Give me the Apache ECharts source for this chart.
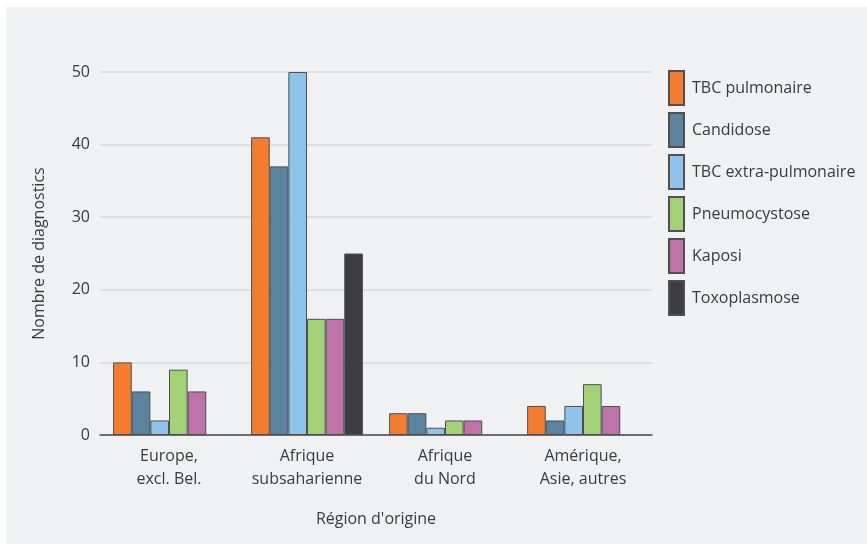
<!DOCTYPE html>
<html><head><meta charset="utf-8">
<script src="https://cdn.jsdelivr.net/npm/echarts@6/dist/echarts.min.js"></script>
<style>html,body{margin:0;padding:0;background:#fff}#c{width:867px;height:545px}</style>
</head><body><div id="c"></div>
<script>
const categories = ['Europe,\nexcl. Bel.', 'Afrique\nsubsaharienne', 'Afrique\ndu Nord', 'Amérique,\nAsie, autres'];
const seriesNames = ['TBC pulmonaire', 'Candidose', 'TBC extra-pulmonaire', 'Pneumocystose', 'Kaposi', 'Toxoplasmose'];
const tbcPulmonaire = [10, 41, 3, 4];
const candidose = [6, 37, 3, 2];
const tbcExtra = [2, 50, 1, 4];
const pneumocystose = [9, 16, 2, 7];
const kaposi = [6, 16, 2, 4];
const toxoplasmose = [null, 25, null, null];
const colors = ['#F47C30', '#5A83A0', '#8EC4EB', '#A3D177', '#BD72A8', '#3D3D3F'];
const seriesData = [tbcPulmonaire, candidose, tbcExtra, pneumocystose, kaposi, toxoplasmose];
const font = 'Open Sans';
const txt = '#3b3b3b';
const chart = echarts.init(document.getElementById('c'));
chart.setOption({
  animation: false,
  backgroundColor: '#ffffff',
  textStyle: { fontFamily: font },
  graphic: [{ type: 'rect', shape: { x: 6, y: 7, width: 861, height: 537 }, style: { fill: '#F0F1F3' }, z: -10 }],
  grid: { left: 100, right: 215, top: 72, bottom: 110 },
  legend: {
    orient: 'vertical', left: 668, top: 70, padding: 0,
    itemWidth: 15, itemHeight: 34, itemGap: 6,
    icon: 'rect',
    textStyle: { fontFamily: font, fontSize: 16, color: txt, padding: [0, 0, 0, 3] },
    data: seriesNames
  },
  xAxis: {
    type: 'category', data: categories,
    axisLine: { lineStyle: { color: '#4a4a4a', width: 1.5 } },
    axisTick: { show: false },
    axisLabel: { interval: 0, fontFamily: font, fontSize: 16, color: txt, lineHeight: 23, margin: 10 },
    name: "Région d'origine", nameLocation: 'middle', nameGap: 76,
    nameTextStyle: { fontFamily: font, fontSize: 16, color: txt }
  },
  yAxis: {
    type: 'value', min: 0, max: 50, interval: 10,
    axisLine: { show: false }, axisTick: { show: false },
    splitLine: { lineStyle: { color: '#D6D7DA', width: 1.5 } },
    axisLabel: { fontFamily: font, fontSize: 16, color: txt, margin: 10 },
    name: 'Nombre de diagnostics', nameLocation: 'middle', nameGap: 53,
    nameTextStyle: { fontFamily: font, fontSize: 16, color: txt }
  },
  series: seriesNames.map((n, i) => ({
    name: n, type: 'bar', data: seriesData[i],
    barGap: '0%', barCategoryGap: '19%',
    itemStyle: { color: colors[i], borderColor: '#4f4f4f', borderWidth: 1 }
  }))
});
</script></body></html>
